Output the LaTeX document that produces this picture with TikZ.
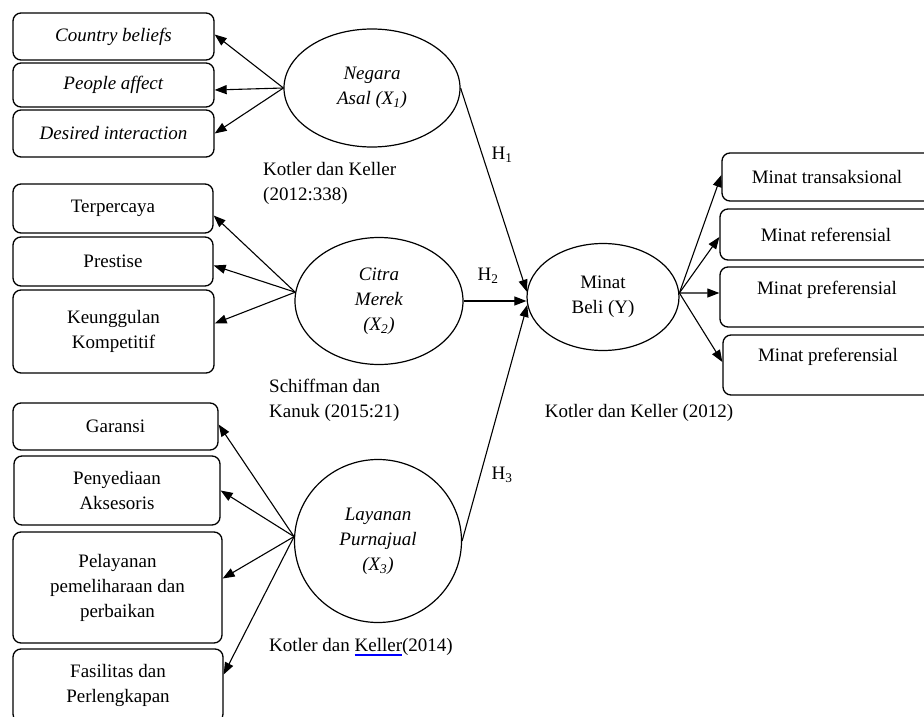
\documentclass[tikz,border=0pt]{standalone}
\usepackage{fontspec}
\setmainfont{Liberation Serif}
\usetikzlibrary{arrows.meta,shapes.geometric,calc}
\newcommand\blueul[1]{\leavevmode\setbox0\hbox{#1}\rlap{\color{blue}\rule[-4pt]{\wd0}{1.2pt}}\box0}
\begin{document}
\begin{tikzpicture}[x=1pt,y=-1pt,
  font=\fontsize{19}{25}\selectfont,
  box/.style={draw, line width=1.3pt, rounded corners=8pt, inner sep=0pt, align=center},
  ell/.style={draw, ellipse, line width=1.2pt, inner sep=0pt, align=center},
  txt/.style={inner sep=0pt, align=left},
  arr/.style={line width=1.1pt, -{Triangle[length=12pt,width=9pt]}}]
\clip (0,0) rectangle (924,717);
\fill[white] (0,0) rectangle (924,717);
% left boxes
\node[box, minimum width=201, minimum height=47] (cb) at (113.5,36.5) {\textit{Country beliefs}};
\node[box, minimum width=201, minimum height=44] (pa) at (113.5,85) {\textit{People affect}};
\node[box, minimum width=201, minimum height=47] (di) at (113.5,133.5) {\textit{Desired interaction}};
\node[box, minimum width=200, minimum height=49] (tp) at (113,208.5) {Terpercaya};
\node[box, minimum width=200, minimum height=49] (pr) at (113,261.5) {Prestise};
\node[box, minimum width=201, minimum height=83] (ku) at (113.5,331.5) {Keunggulan\\Kompetitif};
\node[box, minimum width=205, minimum height=47] (ga) at (115.5,426.5) {Garansi};
\node[box, minimum width=206, minimum height=69] (py) at (117,490.5) {Penyediaan\\Aksesoris};
\node[box, minimum width=209, minimum height=111] (pl) at (117.5,587.5) {Pelayanan\\pemeliharaan dan\\perbaikan};
\node[box, minimum width=210, minimum height=73] (fs) at (118,685.5) {Fasilitas dan\\Perlengkapan};
% right boxes
\node[box, minimum width=210, minimum height=48] (mt) at (827,177) {Minat transaksional};
\node[box, minimum width=212, minimum height=51] (mr) at (826,234.5) {Minat referensial};
\node[box, minimum width=212, minimum height=60] (mp1) at (826,297) {};
\node[txt] (mp1t) at (827,290) {Minat preferensial};
\node[box, minimum width=209, minimum height=60] (mp2) at (827.5,365) {};
\node[txt] (mp2t) at (828,357) {Minat preferensial};
% ellipses
\node[ell, minimum width=176, minimum height=118] (na) at (372,88) {\textit{Negara}\\\textit{Asal (X\textsubscript{1})}};
\node[ell, minimum width=168, minimum height=127] (cm) at (379,301) {\textit{Citra}\\\textit{Merek}\\\textit{(X\textsubscript{2})}};
\node[ell, minimum width=167, minimum height=163] (lc) at (378,541) {\textit{Layanan}\\\textit{Purnajual}\\\textit{(X\textsubscript{3})}};
\node[ell, minimum width=152, minimum height=107] (mb) at (603,297) {Minat\\Beli (Y)};
% texts
\node[txt, anchor=west] (t1) at (263,183.5) {Kotler dan Keller\\(2012:338)};
\node[txt, anchor=west] (t2) at (269,400.5) {Schiffman dan\\Kanuk (2015:21)};
\node[txt, anchor=west] (t3) at (269,647) {Kotler dan \blueul{Keller}(2014)};
\node[txt] (t4) at (639,413) {Kotler dan Keller (2012)};
\node[txt] (h1) at (502,155) {H\textsubscript{1}};
\node[txt] (h2) at (488,276) {H\textsubscript{2}};
\node[txt] (h3) at (502,475) {H\textsubscript{3}};
% arrows from Negara Asal
\draw[arr] (na.west) -- ([yshift=2pt]cb.east);
\draw[arr] (na.west) -- ([yshift=-5pt]pa.east);
\draw[arr] (na.west) -- (di.east);
% arrows from Citra Merek
\draw[arr] (cm.174) -- ([yshift=-7pt]tp.east);
\draw[arr] (cm.174) -- ([yshift=-4pt]pr.east);
\draw[arr] (cm.174) -- ([yshift=8pt]ku.east);
% arrows from Layanan Purnajual
\draw[arr] (lc.177) -- ([yshift=2pt]ga.east);
\draw[arr] (lc.177) -- (py.east);
\draw[arr] (lc.177) -- ([yshift=9pt]pl.east);
\draw[arr] (lc.177) -- ([yshift=11pt]fs.east);
% hypotheses
\draw[arr] (na.east) -- (mb.176);
\draw[arr] (cm.east) -- (cm.east -| mb.west);
\draw[arr] (lc.east) -- (mb.186);
% arrows from Minat Beli
\draw[arr] (mb.3) -- ([yshift=2pt]mt.west);
\draw[arr] (mb.3) -- ([yshift=-2.5pt]mr.west);
\draw[arr] (mb.3) -- ([yshift=4pt]mp1.west);
\draw[arr] (mb.3) -- ([yshift=3pt]mp2.west);
\end{tikzpicture}
\end{document}
